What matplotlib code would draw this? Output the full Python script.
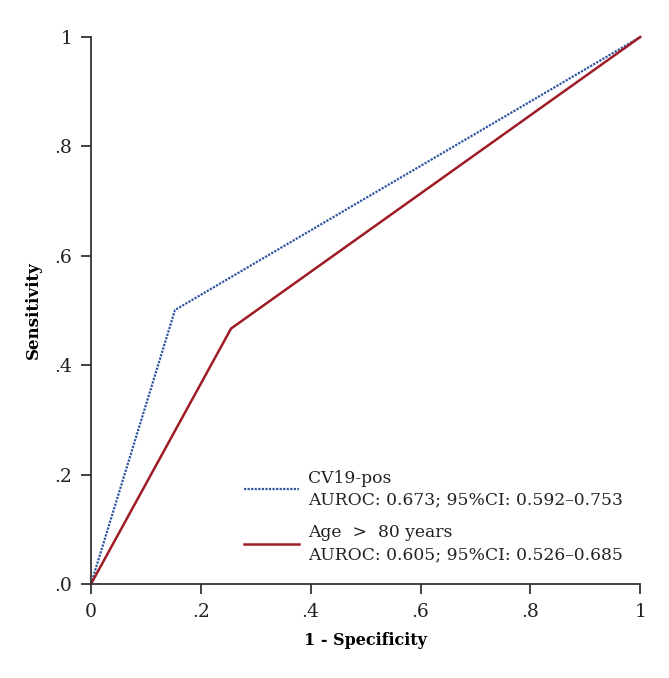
import matplotlib
matplotlib.use("Agg")
import matplotlib.pyplot as plt

# Data
cv19_fpr = [0.0, 0.153, 1.0]
cv19_tpr = [0.0, 0.501, 1.0]
age_fpr = [0.0, 0.255, 1.0]
age_tpr = [0.0, 0.467, 1.0]
cv19_label = "CV19-pos\nAUROC: 0.673; 95%CI: 0.592\u20130.753"
age_label = "Age  >  80 years\nAUROC: 0.605; 95%CI: 0.526\u20130.685"
xticks = [0, 0.2, 0.4, 0.6, 0.8, 1.0]
xticklabels = ["0", ".2", ".4", ".6", ".8", "1"]
yticks = [0, 0.2, 0.4, 0.6, 0.8, 1.0]
yticklabels = [".0", ".2", ".4", ".6", ".8", "1"]

plt.rcParams['font.family'] = ['DejaVu Serif']

fig = plt.figure(figsize=(6.69, 6.78), dpi=100)
ax = fig.add_axes([0.136, 0.1386, 0.821, 0.8068])

ax.plot(cv19_fpr, cv19_tpr, color="#2f55a0", linestyle=(0, (1, 0.6)), linewidth=1.6,
        label=cv19_label, clip_on=False)
ax.plot(age_fpr, age_tpr, color="#9e1c26", linestyle="-", linewidth=1.8,
        label=age_label, clip_on=False)

ax.set_xlim(0, 1)
ax.set_ylim(0, 1)
ax.set_xticks(xticks)
ax.set_xticklabels(xticklabels)
ax.set_yticks(yticks)
ax.set_yticklabels(yticklabels)
for s in ["top", "right"]:
    ax.spines[s].set_visible(False)
for s in ["left", "bottom"]:
    ax.spines[s].set_color("#333333")
    ax.spines[s].set_linewidth(1.3)
ax.tick_params(direction="out", length=7, width=1.3, color="#333333",
               labelsize=13.5, labelcolor="#222222", pad=6.5)

ax.set_xlabel("1 - Specificity", fontsize=11.5, fontweight="bold", labelpad=8)
ax.set_ylabel("Sensitivity", fontsize=12, fontweight="bold", labelpad=9)

leg = ax.legend(loc="lower right", bbox_to_anchor=(0.969, 0.0385), frameon=False,
                fontsize=12.3, handlelength=3.2, handletextpad=0.55,
                labelspacing=0.95, borderaxespad=0, borderpad=0)
for t in leg.get_texts():
    t.set_color("#222222")
    t.set_linespacing(1.35)

fig.savefig("out.png", dpi=100)
